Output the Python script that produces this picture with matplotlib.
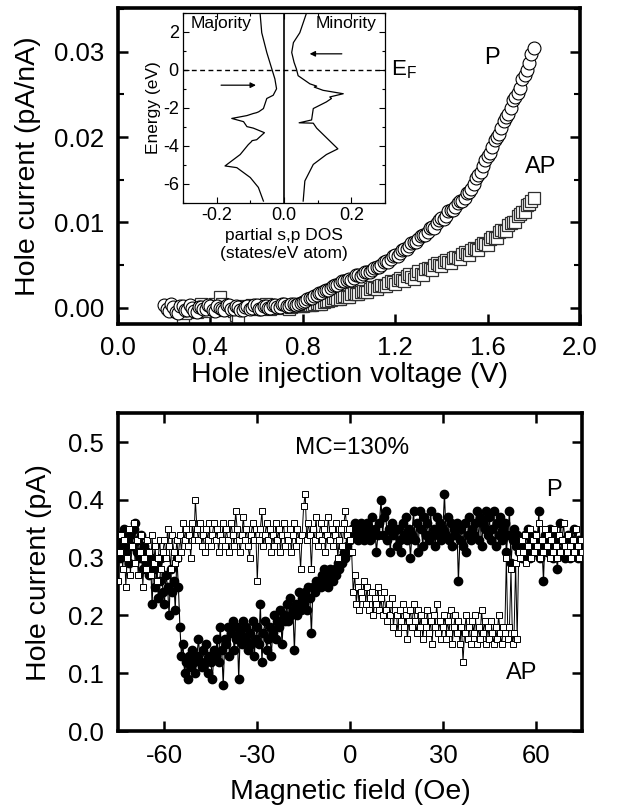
import numpy as np
import matplotlib
matplotlib.use('Agg')
import matplotlib.pyplot as plt
from matplotlib.ticker import MultipleLocator

plt.rcParams['font.family'] = ['Liberation Sans', 'DejaVu Sans']
plt.rcParams['mathtext.fontset'] = 'custom'
plt.rcParams['mathtext.rm'] = 'Liberation Sans'
plt.rcParams['mathtext.it'] = 'Liberation Sans:italic'
plt.rcParams['axes.unicode_minus'] = False

# ---------------- top panel: I-V ----------------
v_p_start, v_p_step = 0.20, 0.01
p_current = [
    0.0003, -0.0002, -0.0004, 0.0004, 0.0001, -0.0005, -0.0006, 0.0002, 0.0002, -0.0003,
    -0.0003, 0.0003, 0.0000, -0.0004, -0.0005, 0.0001, 0.0001, -0.0002, -0.0002, 0.0003,
    0.0002, -0.0003, -0.0004, 0.0002, 0.0000, -0.0002, -0.0003, 0.0003, 0.0003, -0.0002,
    -0.0001, 0.0002, 0.0001, -0.0003, -0.0003, 0.0001, 0.0002, -0.0001, 0.0000, 0.0003,
    0.0003, -0.0001, -0.0001, 0.0002, 0.0002, 0.0000, 0.0000, 0.0003, 0.0003, 0.0001,
    0.0001, 0.0004, 0.0004, 0.0002, 0.0002, 0.0005, 0.0005, 0.0003, 0.0004, 0.0006,
    0.0007, 0.0008, 0.0010, 0.0012, 0.0012, 0.0014, 0.0015, 0.0017, 0.0017, 0.0020,
    0.0021, 0.0021, 0.0023, 0.0026, 0.0027, 0.0027, 0.0029, 0.0031, 0.0031, 0.0033,
    0.0034, 0.0033, 0.0035, 0.0038, 0.0038, 0.0037, 0.0039, 0.0042, 0.0042, 0.0042,
    0.0044, 0.0047, 0.0048, 0.0048, 0.0050, 0.0054, 0.0055, 0.0054, 0.0057, 0.0061,
    0.0062, 0.0061, 0.0064, 0.0068, 0.0069, 0.0069, 0.0072, 0.0076, 0.0077, 0.0077,
    0.0080, 0.0084, 0.0085, 0.0085, 0.0089, 0.0093, 0.0095, 0.0094, 0.0099, 0.0103,
    0.0105, 0.0104, 0.0108, 0.0113, 0.0114, 0.0114, 0.0118, 0.0123, 0.0125, 0.0125,
    0.0129, 0.0134, 0.0136, 0.0139, 0.0145, 0.0152, 0.0156, 0.0159, 0.0166, 0.0173,
    0.0178, 0.0181, 0.0188, 0.0196, 0.0200, 0.0203, 0.0210, 0.0219, 0.0223, 0.0227,
    0.0234, 0.0243, 0.0247, 0.0251, 0.0258, 0.0268, 0.0273, 0.0278, 0.0287, 0.0297,
    0.0304,
]
v_ap_start, v_ap_step = 0.28, 0.01
ap_current = [
    -0.0014, -0.0006, -0.0003, 0.0001, 0.0002, -0.0002, -0.0005, 0.0000, 0.0004, 0.0001,
    -0.0002, -0.0004, 0.0000, 0.0002, 0.0004, 0.0001, 0.0013, 0.0005, -0.0003, -0.0001,
    0.0001, -0.0002, -0.0004, -0.0008, -0.0012, -0.0002, 0.0002, 0.0000, 0.0000, 0.0002,
    0.0003, 0.0000, -0.0002, 0.0000, 0.0001, 0.0003, 0.0004, 0.0001, -0.0001, 0.0001,
    0.0002, 0.0001, 0.0000, 0.0002, 0.0003, 0.0001, -0.0001, 0.0001, 0.0002, 0.0003,
    0.0003, 0.0002,
    0.0002, 0.0003, 0.0004, 0.0003, 0.0003, 0.0005, 0.0006, 0.0005, 0.0005, 0.0007,
    0.0008, 0.0008, 0.0009, 0.0011, 0.0011, 0.0010, 0.0010, 0.0013, 0.0014, 0.0013,
    0.0013, 0.0016, 0.0017, 0.0016, 0.0016, 0.0019, 0.0020, 0.0019, 0.0019, 0.0022,
    0.0024, 0.0023, 0.0022, 0.0026, 0.0027, 0.0026, 0.0025, 0.0029, 0.0031, 0.0030,
    0.0028, 0.0033, 0.0035, 0.0033, 0.0031, 0.0037, 0.0039, 0.0036, 0.0034, 0.0040,
    0.0043, 0.0040, 0.0038, 0.0045, 0.0047, 0.0045, 0.0044, 0.0050, 0.0052, 0.0050,
    0.0049, 0.0054, 0.0056, 0.0054, 0.0053, 0.0058, 0.0060, 0.0058, 0.0057, 0.0063,
    0.0065, 0.0063, 0.0062, 0.0068, 0.0070, 0.0069, 0.0068, 0.0074, 0.0076, 0.0075,
    0.0074, 0.0081, 0.0083, 0.0082, 0.0082, 0.0089, 0.0091, 0.0090, 0.0090, 0.0097,
    0.0099, 0.0100, 0.0100, 0.0108, 0.0110, 0.0112, 0.0112, 0.0120, 0.0122, 0.0125,
    0.0128,
]
v_p = v_p_start + v_p_step * np.arange(len(p_current))
v_ap = v_ap_start + v_ap_step * np.arange(len(ap_current))

# ---------------- inset: partial s,p DOS ----------------
maj_energy = [3.0, 1.96, 0.92, 0.05, -0.47, -0.99, -1.33, -1.5, -2.03, -2.2, -2.25, -2.29,
              -2.4, -2.55, -2.72, -2.98, -3.06, -3.3, -3.67, -3.72, -3.76, -3.93, -4.45,
              -5.05, -5.14, -5.66, -6.18, -6.9]
maj_dos = [-0.071, -0.066, -0.051, -0.036, -0.027, -0.022, -0.032, -0.051, -0.061, -0.075,
           -0.082, -0.091, -0.11, -0.155, -0.12, -0.11, -0.091, -0.058, -0.081, -0.095,
           -0.096, -0.106, -0.13, -0.175, -0.14, -0.10, -0.076, -0.061]
min_energy = [3.0, 1.96, 1.44, 0.92, 0.40, 0.05, -0.3, -0.73, -0.85, -0.9, -1.07, -1.25,
              -1.42, -1.5, -1.68, -2.03, -2.63, -2.78, -2.8, -3.06, -4.15, -4.45, -4.97,
              -5.84, -6.9]
min_dos = [0.067, 0.047, 0.028, 0.023, 0.030, 0.037, 0.042, 0.077, 0.097, 0.090, 0.116,
           0.176, 0.136, 0.141, 0.126, 0.087, 0.082, 0.045, 0.087, 0.097, 0.160, 0.126,
           0.087, 0.062, 0.057]

# ---------------- bottom panel: magnetic field sweep ----------------
field_start, field_step = -75.0, 0.5
mc_filled = [
    0.33, 0.30, 0.34, 0.32, 0.35, 0.31, 0.33, 0.29, 0.34, 0.32,
    0.35, 0.36, 0.31, 0.33, 0.30, 0.34, 0.28, 0.32, 0.29, 0.31,
    0.27, 0.30, 0.22, 0.28, 0.25, 0.29, 0.23, 0.26, 0.30, 0.24,
    0.22, 0.27, 0.25, 0.20, 0.28, 0.24, 0.26, 0.21, 0.30, 0.25,
    0.18, 0.13, 0.15, 0.10, 0.12, 0.09, 0.13, 0.11, 0.14, 0.12,
    0.10, 0.13, 0.16, 0.12, 0.11, 0.14, 0.12, 0.15, 0.10, 0.13,
    0.12, 0.09, 0.14, 0.13, 0.16, 0.12, 0.18, 0.14, 0.08, 0.16,
    0.15, 0.18, 0.13, 0.17, 0.19, 0.14, 0.16, 0.18, 0.09, 0.17,
    0.15, 0.19, 0.16, 0.18, 0.14, 0.17, 0.15, 0.19, 0.13, 0.16,
    0.18, 0.15, 0.22, 0.12, 0.17, 0.19, 0.14, 0.16, 0.18, 0.13,
    0.17, 0.20, 0.16, 0.19, 0.18, 0.21, 0.15, 0.20, 0.19, 0.22,
    0.19, 0.23, 0.20, 0.21, 0.14, 0.22, 0.20, 0.24, 0.21, 0.23,
    0.22, 0.24, 0.21, 0.25, 0.23, 0.17, 0.25, 0.24, 0.26, 0.25,
    0.26, 0.25, 0.27, 0.28, 0.26, 0.27, 0.25, 0.28, 0.27, 0.26,
    0.28, 0.27, 0.29, 0.28, 0.30, 0.29, 0.31, 0.30, 0.32, 0.31,
    0.33, 0.35, 0.34, 0.36, 0.35, 0.33, 0.34, 0.36, 0.35, 0.33,
    0.34, 0.36, 0.35, 0.33, 0.37, 0.34, 0.35, 0.31, 0.34, 0.36,
    0.40, 0.34, 0.37, 0.38, 0.33, 0.35, 0.31, 0.36, 0.34, 0.35,
    0.32, 0.35, 0.33, 0.31, 0.36, 0.34, 0.37, 0.33, 0.35, 0.30,
    0.34, 0.38, 0.33, 0.36, 0.31, 0.38, 0.35, 0.32, 0.37, 0.34,
    0.36, 0.33, 0.38, 0.34, 0.35, 0.32, 0.37, 0.34, 0.36, 0.33,
    0.35, 0.41, 0.34, 0.37, 0.33, 0.36, 0.32, 0.35, 0.34, 0.36,
    0.26, 0.33, 0.35, 0.32, 0.36, 0.31, 0.34, 0.37, 0.33, 0.35,
    0.34, 0.36, 0.38, 0.33, 0.37, 0.32, 0.36, 0.35, 0.38, 0.34,
    0.37, 0.33, 0.35, 0.38, 0.32, 0.36, 0.34, 0.37, 0.33, 0.35,
    0.36, 0.31, 0.34, 0.38, 0.29, 0.33, 0.35, 0.32, 0.34, 0.31,
    0.33, 0.30, 0.32, 0.34, 0.31, 0.35, 0.30, 0.33, 0.32, 0.34,
    0.31, 0.33, 0.38, 0.30, 0.32, 0.26, 0.34, 0.31, 0.33, 0.35,
    0.32, 0.30, 0.34, 0.31, 0.28, 0.33, 0.36, 0.31, 0.33, 0.30,
    0.32, 0.34, 0.30, 0.33, 0.31, 0.35, 0.32, 0.30, 0.33, 0.31,
    0.32,
]
mc_open = [
    0.26, 0.31, 0.34, 0.28, 0.33, 0.25, 0.30, 0.35, 0.27, 0.32,
    0.36, 0.29, 0.33, 0.27, 0.31, 0.34, 0.25, 0.30, 0.28, 0.33,
    0.31, 0.27, 0.34, 0.29, 0.32, 0.26, 0.30, 0.33, 0.28, 0.31,
    0.33, 0.30, 0.35, 0.32, 0.28, 0.34, 0.31, 0.29, 0.33, 0.30,
    0.34, 0.31, 0.36, 0.33, 0.35, 0.32, 0.34, 0.30, 0.36, 0.33,
    0.40, 0.35, 0.33, 0.36, 0.32, 0.34, 0.31, 0.35, 0.33, 0.36,
    0.32, 0.34, 0.36, 0.33, 0.35, 0.31, 0.34, 0.33, 0.36, 0.32,
    0.35, 0.33, 0.31, 0.36, 0.34, 0.32, 0.38, 0.35, 0.33, 0.31,
    0.34, 0.37, 0.33, 0.35, 0.32, 0.30, 0.34, 0.36, 0.33, 0.35,
    0.26, 0.33, 0.35, 0.38, 0.32, 0.34, 0.36, 0.33, 0.35, 0.31,
    0.34, 0.32, 0.36, 0.33, 0.35, 0.31, 0.34, 0.36, 0.32, 0.34,
    0.33, 0.35, 0.31, 0.34, 0.36, 0.32, 0.35, 0.33, 0.28, 0.34,
    0.39, 0.41, 0.33, 0.36, 0.34, 0.28, 0.35, 0.33, 0.37, 0.32,
    0.34, 0.36, 0.33, 0.35, 0.31, 0.34, 0.37, 0.33, 0.35, 0.32,
    0.34, 0.36, 0.30, 0.33, 0.35, 0.32, 0.36, 0.38, 0.34, 0.35,
    0.33, 0.31, 0.24, 0.27, 0.22, 0.25, 0.21, 0.24, 0.23, 0.26,
    0.22, 0.25, 0.21, 0.23, 0.24, 0.20, 0.23, 0.22, 0.25, 0.21,
    0.23, 0.20, 0.24, 0.21, 0.19, 0.22, 0.20, 0.23, 0.18, 0.21,
    0.20, 0.17, 0.21, 0.19, 0.22, 0.18, 0.20, 0.16, 0.19, 0.21,
    0.18, 0.22, 0.19, 0.17, 0.21, 0.18, 0.20, 0.16, 0.19, 0.18,
    0.21, 0.17, 0.19, 0.15, 0.20, 0.18, 0.22, 0.17, 0.19, 0.16,
    0.18, 0.20, 0.16, 0.19, 0.17, 0.21, 0.15, 0.18, 0.20, 0.17,
    0.19, 0.15, 0.18, 0.12, 0.17, 0.20, 0.16, 0.18, 0.15, 0.19,
    0.17, 0.20, 0.15, 0.18, 0.16, 0.21, 0.17, 0.19, 0.15, 0.18,
    0.16, 0.19, 0.17, 0.15, 0.18, 0.16, 0.20, 0.17, 0.15, 0.18,
    0.17, 0.30, 0.16, 0.18, 0.28, 0.15, 0.17, 0.29, 0.16, 0.31,
    0.30, 0.33, 0.31, 0.34, 0.29, 0.32, 0.35, 0.30, 0.33, 0.31,
    0.34, 0.32, 0.36, 0.30, 0.33, 0.31, 0.35, 0.32, 0.34, 0.30,
    0.33, 0.31, 0.35, 0.32, 0.30, 0.34, 0.31, 0.33, 0.36, 0.32,
    0.31, 0.34, 0.32, 0.30, 0.33, 0.31, 0.35, 0.32, 0.30, 0.33,
    0.31,
]
field_filled = field_start + field_step * np.arange(len(mc_filled))
field_open = field_start + field_step * np.arange(len(mc_open))

# ---------------- figure ----------------
fig = plt.figure(figsize=(6.18, 8.11), dpi=100)
ax1 = fig.add_axes([0.191, 0.6005, 0.7475, 0.3895])
ax2 = fig.add_axes([0.191, 0.0986, 0.751, 0.392])
ax_in = fig.add_axes([0.296, 0.7497, 0.327, 0.2343])

LW_SPINE = 2.6
TICK_FS = 18.5
LABEL_FS = 20.5

def style_main(ax):
    for s in ax.spines.values():
        s.set_linewidth(LW_SPINE)
    ax.tick_params(which='major', direction='in', length=7, width=1.8,
                   labelsize=TICK_FS)
    ax.tick_params(which='minor', direction='in', length=4, width=1.5)
    ax.tick_params(axis='y', pad=10)
    ax.tick_params(axis='x', pad=9)

# top panel
ax1.plot(v_ap, ap_current, ls='none', marker='s', ms=8, mfc='white',
         mec='#303030', mew=0.9, zorder=2)
ax1.plot(v_p, p_current, ls='none', marker='o', ms=9.3, mfc='white',
         mec='black', mew=0.8, zorder=3)
ax1.set_xlim(0.0, 2.0)
ax1.set_ylim(-0.0019, 0.0351)
ax1.xaxis.set_major_locator(MultipleLocator(0.4))
ax1.yaxis.set_major_locator(MultipleLocator(0.01))
ax1.yaxis.set_minor_locator(MultipleLocator(0.005))
ax1.xaxis.set_major_formatter(plt.FuncFormatter(lambda v, p: f'{v:.1f}'))
ax1.yaxis.set_major_formatter(plt.FuncFormatter(lambda v, p: f'{v:.2f}'))
style_main(ax1)
ax1.tick_params(axis='y', which='both', left=True, right=True)
ax1.tick_params(axis='x', which='both', bottom=True, top=False)
ax1.set_xlabel('Hole injection voltage (V)', fontsize=LABEL_FS, labelpad=1)
ax1.set_ylabel('Hole current (pA/nA)', fontsize=LABEL_FS, labelpad=9)
ax1.text(1.62, 0.0292, 'P', fontsize=17, ha='center', va='center')
ax1.text(1.83, 0.0165, 'AP', fontsize=17, ha='center', va='center')

# inset
ax_in.plot(maj_dos, maj_energy, color='black', lw=0.9)
ax_in.plot(min_dos, min_energy, color='black', lw=0.9)
ax_in.axvline(0.0, color='black', lw=1.2)
ax_in.axhline(0.0, color='black', lw=1.0, ls=(0, (3.5, 2.5)))
ax_in.set_xlim(-0.3, 0.3)
ax_in.set_ylim(-7, 3)
ax_in.xaxis.set_major_locator(MultipleLocator(0.2))
ax_in.xaxis.set_minor_locator(MultipleLocator(0.1))
ax_in.yaxis.set_major_locator(MultipleLocator(2))
ax_in.yaxis.set_minor_locator(MultipleLocator(1))
ax_in.xaxis.set_major_formatter(plt.FuncFormatter(lambda v, p: f'{v:.1f}'))
for s in ax_in.spines.values():
    s.set_linewidth(0.9)
ax_in.tick_params(which='both', direction='in', top=True, right=True,
                  labelsize=13, width=0.8, pad=3)
ax_in.tick_params(which='major', length=4)
ax_in.tick_params(which='minor', length=2.5)
ax_in.set_xlabel('partial s,p DOS\n(states/eV atom)', fontsize=12.5, labelpad=3,
                 linespacing=1.2)
ax_in.set_ylabel('Energy (eV)', fontsize=12.5, labelpad=1)
ax_in.text(0.04, 0.985, 'Majority', transform=ax_in.transAxes, fontsize=12.5,
           ha='left', va='top')
ax_in.text(0.96, 0.985, 'Minority', transform=ax_in.transAxes, fontsize=12.5,
           ha='right', va='top')
ax_in.annotate('', xy=(-0.075, -0.8), xytext=(-0.195, -0.8),
               arrowprops=dict(arrowstyle='-|>', color='black', lw=0.9,
                               mutation_scale=8))
ax_in.annotate('', xy=(0.068, 0.85), xytext=(0.18, 0.85),
               arrowprops=dict(arrowstyle='-|>', color='black', lw=0.9,
                               mutation_scale=8))
ax_in.text(1.03, 0.0, r'E$_\mathrm{F}$', transform=ax_in.get_yaxis_transform(),
           fontsize=16, ha='left', va='center', clip_on=False)

# bottom panel
ax2.plot(field_filled, mc_filled, color='black', lw=0.8, marker='o', ms=6,
         mfc='black', mec='black', zorder=2)
ax2.plot(field_open, mc_open, color='black', lw=0.7, marker='s', ms=4.5,
         mfc='white', mec='black', mew=0.7, zorder=3)
ax2.set_xlim(-75, 75)
ax2.set_ylim(0.0, 0.55)
ax2.xaxis.set_major_locator(MultipleLocator(30))
ax2.yaxis.set_major_locator(MultipleLocator(0.1))
ax2.yaxis.set_major_formatter(plt.FuncFormatter(lambda v, p: f'{v:.1f}'))
style_main(ax2)
ax2.tick_params(which='both', top=True, right=True)
ax2.set_xlabel('Magnetic field (Oe)', fontsize=LABEL_FS, labelpad=8)
ax2.set_ylabel('Hole current (pA)', fontsize=LABEL_FS, labelpad=12)
ax2.text(0.5, 0.49, 'MC=130%', fontsize=17.5, ha='center', va='center')
ax2.text(66, 0.417, 'P', fontsize=17, ha='center', va='center')
ax2.text(55.5, 0.10, 'AP', fontsize=17, ha='center', va='center')

fig.savefig('out.png', dpi=100)
